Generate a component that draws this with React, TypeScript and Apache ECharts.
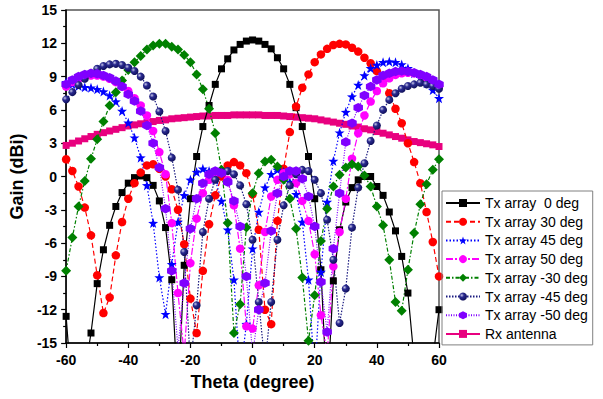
import React, { useEffect, useRef } from "react";
import * as echarts from "echarts";

const thetas = [
  -60, -58, -56, -54, -52, -50, -48, -46, -44, -42, -40, -38, -36, -34, -32, -30,
  -28, -26, -24, -22, -20, -18, -16, -14, -12, -10, -8, -6, -4, -2, 0, 2, 4, 6, 8,
  10, 12, 14, 16, 18, 20, 22, 24, 26, 28, 30, 32, 34, 36, 38, 40, 42, 44, 46, 48,
  50, 52, 54, 56, 58, 60,
];

const tx0 = [
  -12.6, -20, -28, -17.7, -14.1, -9.65, -6.6, -4.4, -2.7, -1.45, -0.6, -0.1, 0.05, -0.1, -0.8, -2.2,
  -4.6, -9.3, -20, -8.0, -2.0, 1.8, 4.5, 6.4, 8.3, 9.7, 10.6, 11.4, 11.9, 12.2, 12.3, 12.2, 11.9, 11.5, 10.7,
  9.7, 8.3, 6.2, 4.5, 1.8, -2.0, -8.4, -20, -9.4, -4.8, -2.3, -1.0, -0.3, 0.0, 0.0, -0.9, -1.7, -3.2, -4.9, -7.2,
  -10.5, -16.5, -26, -28, -16.5, -12.0,
];

const tx30 = [
  1.55, 0.5, -0.9, -2.8, -5.3, -8.9, -12.3, -10.9, -7.1, -4.1, -2.0, -0.6, 0.35, 1.0, 1.1, 0.7,
  0.0, -1.15, -3.0, -6.1, -11.0, -14.1, -8.5, -4.3, -1.7, 0.0, 1.0, 1.3, 1.0, 0.3, -1.6, -4.8, -12.0, -13.3, -4.0,
  0.7, 4.0, 6.3, 8.0, 9.2, 10.3, 11.0, 11.5, 11.85, 11.95, 11.9, 11.6, 11.25, 10.7, 10.2, 9.5, 8.6, 7.5, 6.1, 4.8,
  3.0, 1.3, -0.6, -3.2, -5.9, -9.0,
];

const tx45 = [
  8.5, 8.3, 8.15, 8.05, 8.0, 7.85, 7.65, 7.3, 6.75, 5.9, 4.85, 3.5, 1.7, -0.8, -4.2, -9.1,
  -12.4, -7.9, -4.1, -1.7, -0.3, 0.4, 0.7, 0.5, -0.3, -2.2, -4.8, -9.3, -18, -13.3, -6.5, -3.2, -1.0, 0.2, 0.6,
  0.4, -0.5, -1.6, -4.1, -9.3, -18, -8.6, -2.3, 1.4, 3.95, 5.8, 7.2, 8.25, 9.1, 9.75, 10.05, 10.3, 10.35, 10.3, 10.1,
  9.75, 9.3, 8.9, 8.4, 7.8, 7.05,
];

const tx50 = [
  8.1, 8.5, 8.8, 9.0, 9.1, 9.1, 9.0, 8.8, 8.5, 8.1, 7.7, 7.05, 6.4, 5.5, 4.1, 2.2,
  0.2, -4.2, -10.5, -16, -7.8, -3.8, -1.5, -0.3, 0.3, 0.4, -0.3, -2.6, -6.5, -13.5, -13.7, -9.8, -5.0, -1.8, -0.3,
  0.3, 0.2, -0.6, -2.2, -4.0, -7.0, -12.5, -16, -8.1, -5.0, -2.0, 1.6, 3.9, 5.5, 6.75, 7.7, 8.4, 8.85, 9.15, 9.3,
  9.35, 9.3, 9.15, 8.85, 8.5, 8.1,
];

const txm30 = [
  -8.5, -5.5, -2.7, -0.4, 1.6, 3.35, 4.95, 6.4, 7.6, 8.65, 9.6, 10.3, 10.85, 11.45, 11.8, 11.95,
  11.95, 11.7, 11.45, 10.95, 10.3, 9.2, 7.85, 6.1, 3.9, 0.6, -4.2, -14.1, -11.5, -4.6, -1.5, 0.3, 1.35, 1.5, 0.9,
  -0.3, -2.0, -4.7, -9.1, -14.8, -10.7, -5.8, -2.9, -0.9, 0.15, 0.8, 1.1, 0.9, 0.1, -0.9, -2.7, -4.4, -7.5, -11.3, -12.1,
  -8.4, -5.1, -2.5, -0.7, 0.6, 1.55,
];

const txm45 = [
  6.95, 7.6, 8.25, 8.8, 9.3, 9.7, 9.95, 10.1, 10.15, 10.05, 9.8, 9.5, 9.0, 8.2, 7.2, 5.85,
  4.1, 1.7, -1.2, -6.8, -17, -11.6, -5.0, -2.0, -0.3, 0.4, 0.5, 0.2, -0.8, -2.5, -5.7, -11.3, -17, -11.3, -5.7,
  -2.6, -0.8, 0.2, 0.6, 0.5, -0.3, -1.5, -3.9, -7.5, -13.2, -10.1, -4.6, -1.0, 1.2, 3.2, 4.6, 6.0, 6.9, 7.5, 7.9,
  8.15, 8.3, 8.45, 8.3, 8.15, 7.9,
];

const txm50 = [
  8.3, 8.7, 9.0, 9.2, 9.3, 9.25, 9.1, 8.9, 8.6, 8.1, 7.4, 6.8, 5.9, 4.6, 3.0, 0.8,
  -2.9, -8.5, -15.5, -9.6, -4.7, -2.0, -0.6, 0.2, 0.5, 0.3, -0.5, -2.2, -4.5, -9.0, -16, -12, -9.6, -4.9, -1.5,
  0.0, 0.5, 0.5, -0.2, -1.8, -4.5, -9.5, -14, -6.5, -1.5, 3.1, 4.8, 6.2, 7.3, 8.1, 8.7, 9.1, 9.3, 9.45, 9.5,
  9.45, 9.35, 9.2, 9.0, 8.7, 8.3,
];

const rx = [
  2.8, 3.0, 3.2, 3.4, 3.6, 3.8, 3.95, 4.1, 4.25, 4.4, 4.55, 4.65, 4.75, 4.85, 4.95, 5.05,
  5.1, 5.2, 5.25, 5.3, 5.35, 5.4, 5.45, 5.45, 5.5, 5.5, 5.5, 5.55, 5.55, 5.55, 5.55, 5.55, 5.5, 5.5, 5.5,
  5.45, 5.4, 5.35, 5.3, 5.25, 5.2, 5.1, 5.0, 4.9, 4.8, 4.7, 4.55, 4.45, 4.3, 4.2, 4.05, 3.9, 3.75, 3.6, 3.45,
  3.3, 3.15, 3.05, 2.95, 2.85, 2.7,
];

const seriesNames = [
  "Tx array  0 deg",
  "Tx array 30 deg",
  "Tx array 45 deg",
  "Tx array 50 deg",
  "Tx array -30 deg",
  "Tx array -45 deg",
  "Tx array -50 deg",
  "Rx antenna",
];

const xTicks = { min: -60, max: 60, interval: 20 };
const yTicks = { min: -15, max: 15, interval: 3 };

const STAR =
  "path://M0,-10 L2.35,-3.24 9.51,-3.09 3.8,1.24 5.88,8.09 0,4 -5.88,8.09 -3.8,1.24 -9.51,-3.09 -2.35,-3.24Z";
const HEX = "path://M0,-10 L8.66,-5 8.66,5 0,10 -8.66,5 -8.66,-5Z";

const FONT = "'Liberation Sans', Arial, sans-serif";

function pair(vals: number[]) {
  return thetas.map((t, i) => [t, vals[i]]);
}

export default function App() {
  const ref = useRef<HTMLDivElement>(null);
  useEffect(() => {
    if (!ref.current) return;
    const chart = echarts.init(ref.current, null, { renderer: "svg" });
    const navyGrad = {
      type: "radial",
      x: 0.35,
      y: 0.35,
      r: 0.75,
      colorStops: [
        { offset: 0, color: "#c8c8e8" },
        { offset: 0.35, color: "#2a2a90" },
        { offset: 1, color: "#0a0a50" },
      ],
    };
    const defs: any[] = [
      { vals: tx0, color: "#000000", symbol: "rect", size: 7, dash: "solid", width: 1.2 },
      { vals: tx30, color: "#ff0000", symbol: "circle", size: 8.5, dash: [5, 3], width: 1.2 },
      { vals: tx45, color: "#0000ff", symbol: STAR, size: 10, dash: [1.5, 2], width: 1.2 },
      { vals: tx50, color: "#ff00ff", symbol: "circle", size: 8.5, dash: [7, 2, 2, 2], width: 1.2 },
      { vals: txm30, color: "#008000", symbol: "diamond", size: 10, dash: [4, 2, 1.5, 2], width: 1.2 },
      { vals: txm45, color: "#1a1a80", symbol: "circle", size: 8, dash: [1.5, 1.5], width: 1.2, fill: navyGrad },
      { vals: txm50, color: "#8000ff", symbol: HEX, size: 9.5, dash: [1, 1.5], width: 1.2 },
      { vals: rx, color: "#e8007f", symbol: "rect", size: 7, dash: "solid", width: 1.5, z: 1 },
    ];
    const series = defs.map((d, i) => ({
      name: seriesNames[i],
      type: "line",
      data: pair(d.vals),
      symbol: d.symbol,
      symbolSize: d.size,
      showSymbol: true,
      clip: true,
      z: d.z ?? 2,
      lineStyle: { color: d.color, width: d.width, type: d.dash },
      itemStyle: { color: d.fill ?? d.color, borderWidth: 0 },
      emphasis: { disabled: true },
    }));
    chart.setOption({
      animation: false,
      backgroundColor: "#ffffff",
      grid: {
        left: 65.5,
        right: 164,
        top: 10,
        bottom: 56,
        show: true,
        borderColor: "#555",
        borderWidth: 1.5,
        containLabel: false,
      },
      legend: {
        orient: "vertical",
        left: 442,
        top: 191,
        data: seriesNames,
        itemWidth: 34,
        itemHeight: 10,
        itemGap: 4.7,
        padding: [5, 5, 4, 3],
        borderColor: "#808080",
        borderWidth: 1,
        selectedMode: false,
        textStyle: { fontFamily: FONT, fontSize: 14, color: "#000" },
      },
      xAxis: {
        type: "value",
        min: xTicks.min,
        max: xTicks.max,
        interval: xTicks.interval,
        name: "Theta (degree)",
        nameLocation: "middle",
        nameGap: 30,
        nameTextStyle: { fontFamily: FONT, fontSize: 18, fontWeight: "bold", color: "#000" },
        axisLine: { show: true, onZero: false, lineStyle: { color: "#000", width: 1.5 } },
        axisTick: { show: true, inside: false, length: 5, lineStyle: { color: "#000", width: 1.2 } },
        minorTick: { show: true, splitNumber: 2, length: 3, lineStyle: { color: "#000", width: 1.2 } },
        splitLine: { show: false },
        axisLabel: { fontFamily: FONT, fontSize: 14, fontWeight: "bold", color: "#000", margin: 10 },
      },
      yAxis: {
        type: "value",
        min: yTicks.min,
        max: yTicks.max,
        interval: yTicks.interval,
        name: "Gain (dBi)",
        nameLocation: "middle",
        nameGap: 28,
        nameTextStyle: { fontFamily: FONT, fontSize: 18, fontWeight: "bold", color: "#000" },
        axisLine: { show: true, onZero: false, lineStyle: { color: "#000", width: 1.5 } },
        axisTick: { show: true, inside: false, length: 5, lineStyle: { color: "#000", width: 1.2 } },
        minorTick: { show: true, splitNumber: 2, length: 3, lineStyle: { color: "#000", width: 1.2 } },
        splitLine: { show: false },
        axisLabel: { fontFamily: FONT, fontSize: 14, fontWeight: "bold", color: "#000", margin: 9 },
      },
      series,
    });
    return () => chart.dispose();
  }, []);
  return (
    <div
      ref={ref}
      style={{ position: "fixed", left: 0, top: 0, width: 603, height: 399, background: "#fff" }}
    />
  );
}
